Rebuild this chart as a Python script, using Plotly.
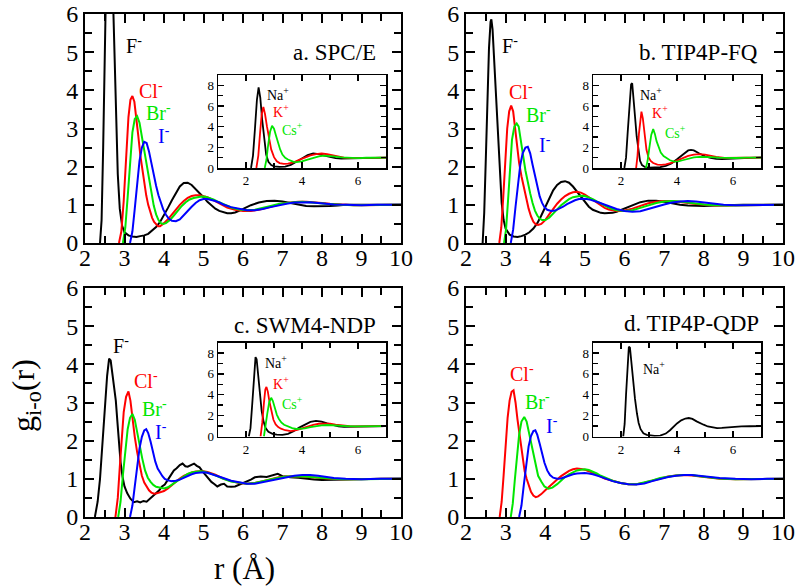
import plotly.graph_objects as go

# ---------------- data: g(r) ----------------
# Panel a. SPC/E
a_F = [(2.38,0),(2.42,0.6),(2.46,2.5),(2.50,5.0),(2.54,7.2),(2.58,8.6),(2.62,9.0),(2.66,8.3),(2.70,6.8),(2.74,5.0),(2.78,3.3),(2.83,1.8),(2.88,0.9),(2.94,0.45),(3.00,0.28),(3.10,0.2),(3.20,0.17),(3.30,0.16),(3.40,0.18),(3.50,0.2),(3.60,0.24),(3.70,0.32),(3.80,0.42),(3.90,0.55),(4.00,0.72),(4.10,0.92),(4.20,1.12),(4.30,1.32),(4.40,1.48),(4.50,1.57),(4.60,1.58),(4.70,1.52),(4.80,1.42),(4.90,1.32),(5.00,1.20),(5.10,1.08),(5.20,0.98),(5.30,0.90),(5.40,0.84),(5.50,0.80),(5.60,0.78),(5.70,0.78),(5.80,0.80),(5.90,0.84),(6.00,0.89),(6.20,0.99),(6.40,1.06),(6.60,1.10),(6.80,1.11),(7.00,1.09),(7.20,1.05),(7.40,1.0),(7.60,0.97),(7.80,0.96),(8.00,0.96),(8.20,0.97),(8.40,0.98),(8.60,1.0),(8.80,1.0),(9.00,1.0),(9.20,0.99),(9.40,1.0),(9.70,1.0),(10.0,1.0)]
a_Cl = [(2.86,0),(2.92,0.3),(2.98,1.1),(3.04,2.3),(3.10,3.3),(3.15,3.75),(3.20,3.85),(3.25,3.7),(3.30,3.3),(3.35,2.8),(3.40,2.3),(3.45,1.9),(3.50,1.55),(3.55,1.25),(3.60,1.0),(3.65,0.82),(3.70,0.66),(3.75,0.55),(3.80,0.48),(3.85,0.44),(3.90,0.44),(3.95,0.47),(4.0,0.52),(4.1,0.62),(4.2,0.75),(4.3,0.88),(4.4,1.0),(4.5,1.1),(4.6,1.18),(4.7,1.23),(4.8,1.25),(4.9,1.25),(5.0,1.23),(5.1,1.2),(5.2,1.15),(5.3,1.1),(5.4,1.04),(5.5,0.98),(5.6,0.93),(5.8,0.87),(6.0,0.84),(6.2,0.84),(6.4,0.87),(6.6,0.92),(6.8,0.98),(7.0,1.03),(7.2,1.06),(7.4,1.08),(7.6,1.08),(7.8,1.07),(8.0,1.05),(8.2,1.03),(8.4,1.01),(8.6,1.0),(8.8,0.99),(9.0,0.99),(9.3,0.99),(9.6,1.0),(10.0,1.0)]
a_Br = [(2.96,0),(3.02,0.4),(3.08,1.2),(3.14,2.2),(3.20,2.9),(3.26,3.25),(3.32,3.32),(3.38,3.15),(3.44,2.8),(3.50,2.4),(3.56,2.05),(3.62,1.7),(3.68,1.3),(3.74,0.98),(3.80,0.75),(3.86,0.6),(3.92,0.52),(3.98,0.5),(4.05,0.52),(4.15,0.6),(4.25,0.72),(4.35,0.85),(4.45,0.97),(4.55,1.07),(4.65,1.14),(4.75,1.18),(4.85,1.21),(4.95,1.22),(5.05,1.21),(5.15,1.18),(5.25,1.14),(5.35,1.09),(5.45,1.04),(5.55,0.99),(5.7,0.93),(5.9,0.88),(6.1,0.86),(6.3,0.87),(6.5,0.91),(6.7,0.97),(6.9,1.02),(7.1,1.05),(7.3,1.07),(7.5,1.08),(7.7,1.07),(7.9,1.05),(8.1,1.03),(8.3,1.01),(8.5,1.0),(8.8,0.99),(9.1,0.99),(9.4,1.0),(9.7,1.0),(10.0,1.0)]
a_I = [(3.14,0),(3.2,0.3),(3.26,0.9),(3.32,1.6),(3.38,2.15),(3.44,2.5),(3.50,2.65),(3.56,2.62),(3.62,2.4),(3.68,2.1),(3.74,1.78),(3.80,1.5),(3.86,1.25),(3.92,1.05),(3.98,0.88),(4.05,0.74),(4.12,0.64),(4.2,0.58),(4.3,0.57),(4.4,0.62),(4.5,0.72),(4.6,0.84),(4.7,0.95),(4.8,1.05),(4.9,1.12),(5.0,1.15),(5.1,1.15),(5.2,1.13),(5.3,1.1),(5.4,1.06),(5.5,1.01),(5.7,0.94),(5.9,0.89),(6.1,0.86),(6.3,0.86),(6.5,0.89),(6.7,0.94),(6.9,0.99),(7.1,1.03),(7.3,1.06),(7.5,1.07),(7.7,1.07),(7.9,1.05),(8.1,1.03),(8.3,1.01),(8.6,1.0),(9.0,0.99),(9.4,1.0),(10.0,1.0)]

# Panel b. TIP4P-FQ
b_F = [(2.42,0),(2.46,0.8),(2.50,2.2),(2.54,3.8),(2.58,5.1),(2.62,5.8),(2.64,5.86),(2.67,5.6),(2.71,4.8),(2.75,3.8),(2.80,2.8),(2.85,1.8),(2.90,1.05),(2.95,0.6),(3.0,0.38),(3.1,0.22),(3.2,0.17),(3.3,0.16),(3.4,0.18),(3.5,0.22),(3.6,0.28),(3.7,0.38),(3.8,0.52),(3.9,0.72),(4.0,0.95),(4.1,1.18),(4.2,1.38),(4.3,1.52),(4.4,1.6),(4.5,1.62),(4.6,1.58),(4.7,1.48),(4.8,1.35),(4.9,1.2),(5.0,1.06),(5.1,0.95),(5.2,0.87),(5.3,0.82),(5.4,0.79),(5.5,0.78),(5.6,0.78),(5.7,0.79),(5.8,0.82),(5.9,0.86),(6.0,0.9),(6.2,0.99),(6.4,1.07),(6.6,1.11),(6.8,1.11),(7.0,1.08),(7.2,1.04),(7.4,1.0),(7.6,0.98),(7.8,0.97),(8.0,0.97),(8.3,0.98),(8.6,0.99),(9.0,1.0),(9.5,1.0),(10.0,1.0)]
b_Cl = [(2.84,0),(2.89,0.4),(2.94,1.2),(2.99,2.2),(3.04,3.0),(3.09,3.45),(3.14,3.6),(3.19,3.45),(3.24,3.0),(3.29,2.5),(3.34,2.1),(3.40,1.75),(3.46,1.45),(3.52,1.15),(3.58,0.9),(3.64,0.7),(3.70,0.56),(3.76,0.49),(3.82,0.47),(3.9,0.5),(4.0,0.6),(4.1,0.75),(4.2,0.9),(4.3,1.03),(4.4,1.14),(4.5,1.23),(4.6,1.29),(4.7,1.33),(4.8,1.34),(4.9,1.32),(5.0,1.27),(5.1,1.2),(5.2,1.12),(5.3,1.04),(5.4,0.97),(5.5,0.92),(5.6,0.88),(5.7,0.85),(5.8,0.84),(5.9,0.84),(6.0,0.85),(6.2,0.9),(6.4,0.98),(6.6,1.04),(6.8,1.08),(7.0,1.1),(7.2,1.1),(7.4,1.08),(7.6,1.05),(7.8,1.02),(8.0,1.0),(8.3,0.98),(8.6,0.98),(9.0,0.99),(9.5,1.0),(10.0,1.0)]
b_Br = [(2.96,0),(3.01,0.35),(3.06,1.1),(3.11,2.0),(3.16,2.7),(3.22,3.05),(3.28,3.13),(3.33,3.05),(3.38,2.75),(3.44,2.3),(3.50,1.9),(3.56,1.57),(3.62,1.3),(3.68,1.05),(3.74,0.85),(3.80,0.72),(3.86,0.64),(3.92,0.6),(4.0,0.6),(4.1,0.66),(4.2,0.76),(4.3,0.88),(4.4,0.99),(4.5,1.08),(4.6,1.15),(4.7,1.2),(4.8,1.23),(4.9,1.24),(5.0,1.23),(5.1,1.2),(5.2,1.15),(5.3,1.09),(5.4,1.03),(5.5,0.97),(5.6,0.93),(5.7,0.89),(5.8,0.86),(6.0,0.84),(6.2,0.86),(6.4,0.92),(6.6,0.99),(6.8,1.05),(7.0,1.09),(7.2,1.1),(7.4,1.09),(7.6,1.06),(7.8,1.03),(8.0,1.01),(8.3,0.99),(8.6,0.98),(9.0,0.99),(9.5,1.0),(10.0,1.0)]
b_I = [(3.13,0),(3.19,0.35),(3.25,0.95),(3.31,1.55),(3.37,2.05),(3.43,2.35),(3.50,2.5),(3.56,2.52),(3.62,2.35),(3.68,2.05),(3.74,1.75),(3.80,1.45),(3.86,1.22),(3.92,1.05),(3.98,0.94),(4.05,0.87),(4.15,0.84),(4.25,0.85),(4.35,0.89),(4.45,0.95),(4.55,1.02),(4.65,1.08),(4.75,1.12),(4.85,1.15),(4.95,1.16),(5.05,1.15),(5.15,1.13),(5.3,1.08),(5.45,1.02),(5.6,0.96),(5.8,0.89),(6.0,0.84),(6.2,0.82),(6.4,0.83),(6.6,0.88),(6.8,0.95),(7.0,1.01),(7.2,1.06),(7.4,1.09),(7.6,1.1),(7.8,1.09),(8.0,1.06),(8.2,1.03),(8.5,1.0),(8.8,0.99),(9.2,0.99),(9.6,1.0),(10.0,1.0)]

# Panel c. SWM4-NDP
c_F = [(2.25,0),(2.32,0.4),(2.38,1.0),(2.44,1.9),(2.50,2.9),(2.56,3.7),(2.61,4.15),(2.65,4.1),(2.70,3.7),(2.75,3.25),(2.78,3.05),(2.82,2.5),(2.86,1.9),(2.90,1.44),(2.95,1.05),(3.0,0.8),(3.07,0.62),(3.15,0.48),(3.24,0.39),(3.32,0.41),(3.40,0.38),(3.48,0.42),(3.56,0.4),(3.64,0.48),(3.72,0.55),(3.8,0.62),(3.88,0.7),(3.95,0.8),(4.02,0.85),(4.1,0.98),(4.18,1.1),(4.25,1.22),(4.32,1.28),(4.4,1.36),(4.47,1.4),(4.54,1.33),(4.6,1.32),(4.68,1.37),(4.76,1.4),(4.83,1.34),(4.9,1.3),(4.97,1.2),(5.05,1.1),(5.12,1.0),(5.2,0.92),(5.28,0.86),(5.35,0.8),(5.44,0.85),(5.52,0.87),(5.6,0.8),(5.7,0.79),(5.8,0.8),(5.9,0.84),(6.0,0.88),(6.1,0.93),(6.2,0.98),(6.3,1.04),(6.45,1.06),(6.6,1.05),(6.75,1.1),(6.88,1.13),(7.0,1.07),(7.2,1.04),(7.4,1.03),(7.6,1.0),(7.8,0.98),(8.0,0.97),(8.3,0.98),(8.6,0.99),(9.0,1.0),(9.5,1.0),(10.0,1.0)]
c_Cl = [(2.77,0),(2.83,0.5),(2.88,1.3),(2.93,2.1),(2.98,2.75),(3.04,3.15),(3.10,3.29),(3.15,3.05),(3.20,2.55),(3.26,2.1),(3.32,1.7),(3.38,1.35),(3.44,1.08),(3.50,0.9),(3.56,0.78),(3.62,0.7),(3.68,0.64),(3.75,0.61),(3.82,0.62),(3.9,0.64),(4.0,0.68),(4.1,0.75),(4.2,0.84),(4.3,0.93),(4.4,1.01),(4.5,1.08),(4.6,1.13),(4.7,1.17),(4.8,1.19),(4.9,1.2),(5.0,1.2),(5.1,1.18),(5.2,1.15),(5.3,1.11),(5.4,1.06),(5.5,1.01),(5.7,0.94),(5.9,0.89),(6.1,0.87),(6.3,0.89),(6.5,0.94),(6.7,1.0),(6.9,1.04),(7.1,1.06),(7.3,1.07),(7.5,1.06),(7.7,1.04),(7.9,1.02),(8.2,1.0),(8.5,0.99),(9.0,0.99),(9.5,1.0),(10.0,1.0)]
c_Br = [(2.84,0),(2.9,0.4),(2.96,1.1),(3.02,1.8),(3.08,2.3),(3.14,2.6),(3.20,2.7),(3.26,2.55),(3.32,2.2),(3.38,1.85),(3.45,1.53),(3.52,1.22),(3.59,1.03),(3.66,0.92),(3.73,0.84),(3.8,0.79),(3.9,0.76),(4.0,0.75),(4.1,0.78),(4.2,0.85),(4.3,0.93),(4.4,1.01),(4.5,1.08),(4.6,1.13),(4.7,1.17),(4.8,1.19),(4.9,1.2),(5.0,1.19),(5.1,1.17),(5.2,1.13),(5.3,1.09),(5.4,1.04),(5.5,1.0),(5.7,0.93),(5.9,0.89),(6.1,0.87),(6.3,0.89),(6.5,0.94),(6.7,0.99),(6.9,1.03),(7.1,1.06),(7.3,1.07),(7.5,1.07),(7.7,1.05),(7.9,1.03),(8.2,1.0),(8.5,0.99),(9.0,0.99),(9.5,1.0),(10.0,1.0)]
c_I = [(3.14,0),(3.2,0.3),(3.26,0.8),(3.32,1.35),(3.38,1.8),(3.44,2.1),(3.50,2.27),(3.55,2.3),(3.60,2.2),(3.66,1.98),(3.72,1.7),(3.78,1.45),(3.84,1.27),(3.9,1.15),(3.96,1.07),(4.02,1.0),(4.1,0.96),(4.2,0.94),(4.3,0.95),(4.4,0.98),(4.5,1.03),(4.6,1.08),(4.7,1.12),(4.8,1.15),(4.9,1.17),(5.0,1.17),(5.1,1.16),(5.2,1.13),(5.35,1.08),(5.5,1.02),(5.7,0.95),(5.9,0.9),(6.1,0.87),(6.3,0.87),(6.5,0.91),(6.7,0.96),(6.9,1.01),(7.1,1.05),(7.3,1.08),(7.5,1.1),(7.7,1.1),(7.9,1.08),(8.1,1.05),(8.3,1.02),(8.6,1.0),(9.0,0.99),(9.5,1.0),(10.0,1.0)]

# Panel d. TIP4P-QDP
d_Cl = [(2.85,0),(2.9,0.4),(2.95,1.1),(3.0,1.9),(3.05,2.6),(3.1,3.05),(3.15,3.28),(3.2,3.32),(3.25,3.0),(3.30,2.55),(3.36,2.05),(3.42,1.55),(3.48,1.2),(3.53,1.0),(3.58,0.82),(3.64,0.66),(3.7,0.56),(3.76,0.52),(3.82,0.54),(3.9,0.6),(4.0,0.7),(4.1,0.8),(4.2,0.89),(4.3,0.98),(4.4,1.07),(4.5,1.15),(4.6,1.21),(4.7,1.25),(4.8,1.27),(4.9,1.26),(5.0,1.24),(5.1,1.2),(5.2,1.16),(5.3,1.11),(5.4,1.06),(5.5,1.01),(5.7,0.94),(5.9,0.89),(6.1,0.86),(6.3,0.86),(6.5,0.9),(6.7,0.96),(6.9,1.02),(7.1,1.06),(7.3,1.09),(7.5,1.1),(7.7,1.09),(7.9,1.06),(8.1,1.03),(8.4,1.0),(8.8,0.99),(9.2,0.99),(9.6,1.0),(10.0,1.0)]
d_Br = [(3.13,0),(3.18,0.35),(3.23,0.95),(3.28,1.6),(3.34,2.15),(3.40,2.5),(3.47,2.62),(3.53,2.5),(3.59,2.2),(3.65,1.85),(3.7,1.61),(3.76,1.3),(3.82,1.08),(3.9,0.93),(3.98,0.8),(4.08,0.74),(4.18,0.77),(4.3,0.86),(4.4,0.96),(4.5,1.05),(4.6,1.12),(4.7,1.18),(4.8,1.22),(4.9,1.24),(5.0,1.25),(5.1,1.23),(5.2,1.19),(5.3,1.14),(5.4,1.08),(5.5,1.03),(5.7,0.95),(5.9,0.89),(6.1,0.86),(6.3,0.86),(6.5,0.9),(6.7,0.96),(6.9,1.02),(7.1,1.06),(7.3,1.09),(7.5,1.1),(7.7,1.1),(7.9,1.07),(8.1,1.04),(8.4,1.01),(8.8,0.99),(9.2,0.99),(9.6,1.0),(10.0,1.0)]
d_I = [(3.34,0),(3.4,0.3),(3.46,0.85),(3.52,1.4),(3.58,1.85),(3.64,2.12),(3.70,2.25),(3.75,2.27),(3.8,2.15),(3.86,1.92),(3.92,1.65),(3.98,1.42),(4.05,1.22),(4.12,1.1),(4.2,1.03),(4.3,1.0),(4.4,1.01),(4.5,1.05),(4.6,1.09),(4.7,1.12),(4.8,1.14),(4.9,1.15),(5.0,1.15),(5.1,1.14),(5.2,1.12),(5.35,1.07),(5.5,1.01),(5.7,0.94),(5.9,0.89),(6.1,0.86),(6.3,0.85),(6.5,0.88),(6.7,0.94),(6.9,1.0),(7.1,1.05),(7.3,1.08),(7.5,1.1),(7.7,1.1),(7.9,1.08),(8.1,1.05),(8.4,1.02),(8.8,1.0),(9.2,0.99),(9.6,1.0),(10.0,1.0)]

# Insets: cation–O g(r)
ia_Na = [(2.18,0),(2.25,1.2),(2.32,3.8),(2.39,6.6),(2.45,7.8),(2.51,6.8),(2.58,4.6),(2.65,2.6),(2.72,1.3),(2.8,0.6),(2.9,0.28),(3.0,0.16),(3.2,0.1),(3.4,0.14),(3.6,0.3),(3.8,0.6),(4.0,0.95),(4.2,1.25),(4.4,1.4),(4.6,1.35),(4.8,1.2),(5.0,1.05),(5.2,0.95),(5.4,0.9),(5.7,0.92),(6.0,0.98),(6.3,1.0),(6.6,1.0),(7.0,1.0)]
ia_K = [(2.37,0),(2.44,1.2),(2.5,3.3),(2.56,5.2),(2.62,5.9),(2.68,5.2),(2.75,4.0),(2.82,2.8),(2.9,1.8),(3.0,1.05),(3.1,0.65),(3.2,0.48),(3.35,0.4),(3.5,0.42),(3.7,0.55),(3.9,0.78),(4.1,1.02),(4.3,1.22),(4.5,1.35),(4.7,1.4),(4.9,1.33),(5.1,1.2),(5.3,1.08),(5.5,1.0),(5.8,0.96),(6.1,0.97),(6.4,1.0),(7.0,1.0)]
ia_Cs = [(2.67,0),(2.73,0.8),(2.79,2.2),(2.86,3.5),(2.93,4.08),(3.0,3.8),(3.07,3.15),(3.14,2.45),(3.22,1.8),(3.3,1.3),(3.4,0.98),(3.5,0.82),(3.6,0.7),(3.7,0.6),(3.8,0.56),(3.9,0.57),(4.0,0.64),(4.2,0.82),(4.4,1.0),(4.6,1.13),(4.8,1.2),(5.0,1.18),(5.2,1.1),(5.4,1.03),(5.7,0.97),(6.0,0.96),(6.3,0.99),(6.6,1.0),(7.0,1.0)]
ib_Na = [(2.12,0),(2.18,1.0),(2.24,3.5),(2.3,6.4),(2.36,8.1),(2.4,8.2),(2.45,6.9),(2.5,5.0),(2.56,3.05),(2.62,1.6),(2.68,0.7),(2.75,0.28),(2.85,0.1),(3.0,0.04),(3.2,0.04),(3.4,0.08),(3.6,0.2),(3.8,0.45),(4.0,0.85),(4.2,1.3),(4.4,1.7),(4.5,1.76),(4.6,1.7),(4.8,1.4),(5.0,1.13),(5.2,0.98),(5.4,0.88),(5.6,0.86),(5.9,0.9),(6.2,0.96),(6.5,1.0),(7.0,1.02)]
ib_K = [(2.54,0),(2.59,1.2),(2.64,3.3),(2.69,5.0),(2.73,5.46),(2.78,4.8),(2.84,3.3),(2.91,1.76),(2.98,1.05),(3.06,0.68),(3.15,0.48),(3.3,0.33),(3.45,0.3),(3.6,0.35),(3.8,0.5),(4.0,0.75),(4.2,1.0),(4.4,1.18),(4.6,1.3),(4.8,1.35),(5.0,1.3),(5.2,1.18),(5.4,1.07),(5.7,0.98),(6.0,0.96),(6.4,0.99),(7.0,1.0)]
ib_Cs = [(2.89,0),(2.95,0.7),(3.01,1.9),(3.08,3.2),(3.15,3.76),(3.21,3.3),(3.27,2.6),(3.33,2.08),(3.42,1.5),(3.52,1.15),(3.63,0.96),(3.75,0.75),(3.9,0.62),(4.05,0.64),(4.2,0.75),(4.4,0.9),(4.6,1.02),(4.8,1.08),(5.0,1.1),(5.2,1.06),(5.5,1.0),(5.8,0.96),(6.1,0.97),(6.5,1.0),(7.0,1.0)]
ic_Na = [(2.1,0),(2.16,0.8),(2.22,3.0),(2.28,5.8),(2.34,7.6),(2.38,7.4),(2.44,5.9),(2.5,4.0),(2.56,2.43),(2.63,1.4),(2.7,0.8),(2.8,0.45),(2.95,0.25),(3.1,0.17),(3.3,0.15),(3.5,0.25),(3.7,0.5),(3.9,0.85),(4.1,1.15),(4.3,1.4),(4.5,1.5),(4.7,1.43),(4.9,1.25),(5.1,1.08),(5.3,0.97),(5.5,0.92),(5.8,0.94),(6.1,0.98),(6.5,1.0),(7.0,1.0)]
ic_K = [(2.52,0),(2.58,1.3),(2.64,3.2),(2.69,4.5),(2.73,4.74),(2.78,4.3),(2.84,3.3),(2.91,2.27),(2.98,1.6),(3.06,1.15),(3.15,0.9),(3.25,0.75),(3.4,0.6),(3.6,0.52),(3.8,0.6),(4.0,0.78),(4.2,0.97),(4.4,1.12),(4.6,1.22),(4.8,1.25),(5.0,1.22),(5.2,1.13),(5.4,1.05),(5.7,0.98),(6.0,0.97),(6.4,1.0),(7.0,1.0)]
ic_Cs = [(2.64,0),(2.7,0.9),(2.76,2.2),(2.83,3.3),(2.9,3.71),(2.96,3.4),(3.03,2.7),(3.1,2.1),(3.17,1.7),(3.26,1.35),(3.36,1.12),(3.5,0.97),(3.65,0.8),(3.8,0.72),(3.95,0.72),(4.1,0.78),(4.3,0.9),(4.5,1.0),(4.7,1.07),(4.9,1.1),(5.1,1.09),(5.3,1.05),(5.6,1.0),(5.9,0.97),(6.2,0.98),(6.6,1.0),(7.0,1.0)]
id_Na = [(2.08,0),(2.13,1.2),(2.18,4.0),(2.23,7.0),(2.28,8.6),(2.32,8.5),(2.37,7.0),(2.43,5.0),(2.5,3.6),(2.57,2.2),(2.63,1.3),(2.7,0.7),(2.8,0.3),(2.92,0.16),(3.05,0.08),(3.2,0.05),(3.4,0.08),(3.6,0.28),(3.75,0.6),(3.88,0.96),(4.0,1.25),(4.15,1.55),(4.3,1.72),(4.42,1.77),(4.55,1.68),(4.7,1.45),(4.85,1.22),(4.95,1.13),(5.1,0.96),(5.25,0.86),(5.43,0.8),(5.6,0.82),(5.8,0.88),(6.0,0.93),(6.3,0.96),(6.6,0.98),(7.0,1.0)]

panel_titles = ["a. SPC/E", "b. TIP4P-FQ", "c. SWM4-NDP", "d. TIP4P-QDP"]
x_ticks_main = [2, 3, 4, 5, 6, 7, 8, 9, 10]
y_ticks_main = [0, 1, 2, 3, 4, 5, 6]

# ---------------- styling ----------------
FONT = "Liberation Serif, Times New Roman, Times, serif"
BLACK, RED, GREEN, BLUE = "#000000", "#ff0000", "#00e600", "#0000ff"

fig = go.Figure()

def add(data, color, n, width=2):
    r, g = zip(*data)
    fig.add_trace(go.Scatter(x=list(r), y=list(g), mode="lines",
                             line=dict(color=color, width=width),
                             xaxis="x" if n == 1 else f"x{n}",
                             yaxis="y" if n == 1 else f"y{n}",
                             showlegend=False, hoverinfo="skip"))

main_series = {
    1: [(a_F, BLACK), (a_Cl, RED), (a_Br, GREEN), (a_I, BLUE)],
    2: [(b_F, BLACK), (b_Cl, RED), (b_Br, GREEN), (b_I, BLUE)],
    3: [(c_F, BLACK), (c_Cl, RED), (c_Br, GREEN), (c_I, BLUE)],
    4: [(d_Cl, RED), (d_Br, GREEN), (d_I, BLUE)],
}
inset_series = {
    5: [(ia_Na, BLACK), (ia_K, RED), (ia_Cs, GREEN)],
    6: [(ib_Na, BLACK), (ib_K, RED), (ib_Cs, GREEN)],
    7: [(ic_Na, BLACK), (ic_K, RED), (ic_Cs, GREEN)],
    8: [(id_Na, BLACK)],
}
for n, lst in main_series.items():
    for d, c in lst:
        add(d, c, n, 2)
for n, lst in inset_series.items():
    for d, c in lst:
        add(d, c, n, 1.8)

W, H = 800, 588
def px_x(a, b): return [a / W, b / W]
def px_y(top, bot): return [1 - bot / H, 1 - top / H]

main_dom = {
    1: (px_x(85, 401), px_y(14, 243)),
    2: (px_x(466, 783), px_y(14, 243)),
    3: (px_x(85, 401), px_y(288, 517)),
    4: (px_x(466, 783), px_y(288, 517)),
}
inset_dom = {
    5: (px_x(218, 386), px_y(75, 168)),
    6: (px_x(593, 761), px_y(75, 168)),
    7: (px_x(218, 386), px_y(342.5, 436.5)),
    8: (px_x(593, 761), px_y(342.5, 436.5)),
}

def axis_common(size, lw, tl):
    return dict(showline=True, linecolor="black", linewidth=lw, mirror="ticks",
                ticks="inside", tickcolor="black", tickwidth=lw, ticklen=tl,
                showgrid=False, zeroline=False, automargin=False,
                tickfont=dict(family=FONT, size=size, color="black"))

layout = {}
for n, (xd, yd) in main_dom.items():
    xk = "xaxis" if n == 1 else f"xaxis{n}"
    yk = "yaxis" if n == 1 else f"yaxis{n}"
    c = axis_common(24, 2, 9)
    layout[xk] = dict(c, domain=xd, range=[2, 10], tickvals=x_ticks_main,
                      minor=dict(dtick=0.5, tick0=0, ticks="inside", ticklen=7, tickwidth=2, tickcolor="black"),
                      anchor="y" if n == 1 else f"y{n}", ticklabelstandoff=-8)
    layout[yk] = dict(c, domain=yd, range=[0, 6], tickvals=y_ticks_main,
                      minor=dict(dtick=0.5, tick0=0, ticks="inside", ticklen=7, tickwidth=2, tickcolor="black"),
                      anchor="x" if n == 1 else f"x{n}", ticklabelstandoff=0)
for n, (xd, yd) in inset_dom.items():
    c = axis_common(13, 1.5, 6)
    layout[f"xaxis{n}"] = dict(c, domain=xd, range=[1, 7], tickvals=[2, 4, 6],
                               minor=dict(dtick=1, tick0=0, ticks="inside", ticklen=5, tickwidth=1.5, tickcolor="black"),
                               anchor=f"y{n}")
    layout[f"yaxis{n}"] = dict(c, domain=yd, range=[0, 9], tickvals=[0, 2, 4, 6, 8],
                               minor=dict(dtick=1, tick0=0, ticks="inside", ticklen=5, tickwidth=1.5, tickcolor="black"),
                               anchor=f"x{n}")

ann = []
def lab(n, x, y, text, color, size, xanchor="left"):
    ann.append(dict(x=x, y=y, xref="x" if n == 1 else f"x{n}", yref="y" if n == 1 else f"y{n}",
                    text=text, showarrow=False, xanchor=xanchor, yanchor="middle",
                    font=dict(family=FONT, size=size, color=color)))

ion_labels = {
    1: [(2.99, 5.2, "F<sup>-</sup>", BLACK), (3.31, 4.0, "Cl<sup>-</sup>", RED), (3.49, 3.44, "Br<sup>-</sup>", GREEN), (3.79, 2.83, "I<sup>-</sup>", BLUE)],
    2: [(2.86, 5.2, "F<sup>-</sup>", BLACK), (3.03, 3.99, "Cl<sup>-</sup>", RED), (3.47, 3.38, "Br<sup>-</sup>", GREEN), (3.78, 2.6, "I<sup>-</sup>", BLUE)],
    3: [(2.65, 4.5, "F<sup>-</sup>", BLACK), (3.2, 3.6, "Cl<sup>-</sup>", RED), (3.39, 2.86, "Br<sup>-</sup>", GREEN), (3.72, 2.25, "I<sup>-</sup>", BLUE)],
    4: [(3.05, 3.77, "Cl<sup>-</sup>", RED), (3.45, 3.04, "Br<sup>-</sup>", GREEN), (3.96, 2.4, "I<sup>-</sup>", BLUE)],
}
for n, lst in ion_labels.items():
    for x, y, t, c in lst:
        lab(n, x, y, t, c, 20)
title_pos = {1: (9.43, 5.0), 2: (9.42, 5.0), 3: (9.43, 5.02), 4: (9.45, 5.08)}
for n, (x, y) in title_pos.items():
    lab(n, x, y, panel_titles[n - 1], BLACK, 23, xanchor="right")

inset_labels = {
    5: [(2.69, 7.2, "Na<sup>+</sup>", BLACK), (2.9, 5.5, "K<sup>+</sup>", RED), (3.2, 3.8, "Cs<sup>+</sup>", GREEN)],
    6: [(2.61, 7.17, "Na<sup>+</sup>", BLACK), (3.03, 5.4, "K<sup>+</sup>", RED), (3.49, 3.53, "Cs<sup>+</sup>", GREEN)],
    7: [(2.61, 7.1, "Na<sup>+</sup>", BLACK), (2.91, 5.16, "K<sup>+</sup>", RED), (3.21, 3.23, "Cs<sup>+</sup>", GREEN)],
    8: [(2.71, 6.6, "Na<sup>+</sup>", BLACK)],
}
for n, lst in inset_labels.items():
    for x, y, t, c in lst:
        lab(n, x, y, t, c, 14)

ann.append(dict(x=25 / W, y=1 - 396 / H, xref="paper", yref="paper", text="g<sub>i-o</sub>(r)",
                textangle=-90, showarrow=False, xanchor="center", yanchor="middle",
                font=dict(family=FONT, size=32, color="black")))
ann.append(dict(x=244 / W, y=1 - 568 / H, xref="paper", yref="paper", text="r (Å)",
                showarrow=False, xanchor="center", yanchor="middle",
                font=dict(family=FONT, size=31, color="black")))

fig.update_layout(width=W, height=H, margin=dict(l=0, r=0, t=0, b=0, autoexpand=False),
                  paper_bgcolor="white", plot_bgcolor="rgba(0,0,0,0)",
                  font=dict(family=FONT, color="black"),
                  annotations=ann, showlegend=False, **layout)

fig.write_html("out.html", config={"displayModeBar": False, "staticPlot": True},
               post_script="document.body.style.margin='0';document.body.style.padding='0';"
                           "document.documentElement.style.overflow='hidden';")
